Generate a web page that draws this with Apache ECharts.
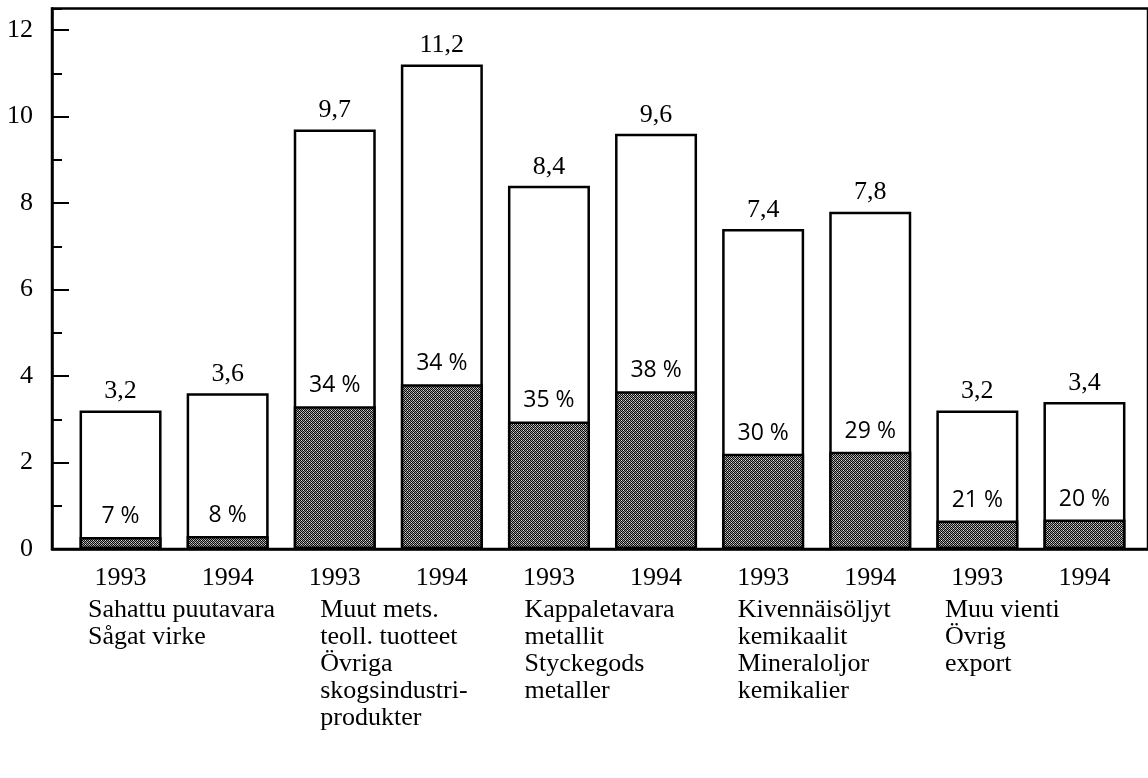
<!DOCTYPE html>
<html><head><meta charset="utf-8">
<script src="https://cdn.jsdelivr.net/npm/echarts@6/dist/echarts.min.js"></script>
<style>html,body{margin:0;padding:0;background:#fff}#c{width:1148px;height:778px}</style>
</head><body><div id="c"></div>
<script>
// ---- data ----
const years = ['1993','1994','1993','1994','1993','1994','1993','1994','1993','1994'];
const totals = [3.2, 3.6, 9.7, 11.2, 8.4, 9.6, 7.4, 7.8, 3.2, 3.4];
const shaded = [0.28, 0.30, 3.30, 3.81, 2.95, 3.65, 2.20, 2.25, 0.66, 0.68];
const shares = [7, 8, 34, 34, 35, 38, 30, 29, 21, 20];
const groups = [
  'Sahattu puutavara\nSågat virke',
  'Muut mets.\nteoll. tuotteet\nÖvriga\nskogsindustri-\nprodukter',
  'Kappaletavara\nmetallit\nStyckegods\nmetaller',
  'Kivennäisöljyt\nkemikaalit\nMineraloljor\nkemikalier',
  'Muu vienti\nÖvrig\nexport'
];
const groupShift = [0, 18, 8, 7, 0];

function makePattern(){
  const c = document.createElement('canvas'); c.width = 4; c.height = 4;
  const g = c.getContext('2d');
  g.fillStyle = '#9a9a9a'; g.fillRect(0,0,4,4);
  g.fillStyle = '#0a0a0a';
  for (let y=0;y<4;y++) for (let x=0;x<4;x++) if ((x+y)%2===0) g.fillRect(x,y,1,1);
  g.fillStyle = '#e0e0e0';
  g.fillRect(1,0,1,1); g.fillRect(3,2,1,1);
  return c;
}
const serif = 'Liberation Serif';
const chart = echarts.init(document.getElementById('c'), null, {renderer:'canvas'});
const gTop = 8.4, gBottom = 229;
chart.setOption({
  animation:false,
  backgroundColor:'#fff',
  grid:[
    {left:52, right:-6, top:gTop, bottom:gBottom, show:true, borderColor:'#000', borderWidth:2.5, backgroundColor:'transparent'},
    {left:67, right:10, top:gTop, bottom:gBottom},
    {left:88, right:203, top:gTop, bottom:gBottom}
  ],
  xAxis:[
    {gridIndex:0, type:'value', min:0, max:1, axisLine:{show:true, lineStyle:{color:'#000', width:2.5}}, axisTick:{show:false}, axisLabel:{show:false}, splitLine:{show:false}},
    {gridIndex:1, type:'category', data:years, axisLine:{show:false}, axisTick:{show:false},
     axisLabel:{interval:0, margin:16, color:'#000', fontFamily:serif, fontSize:26}},
    {gridIndex:2, type:'category', boundaryGap:false,
     data: groups.map((g,i)=>({value:g, textStyle:{align:'left', padding:[0,0,0,groupShift[i]]}})),
     axisLine:{show:false}, axisTick:{show:false},
     axisLabel:{interval:0, margin:48, align:'left', color:'#000', fontFamily:serif, fontSize:26, lineHeight:27}}
  ],
  yAxis:[
    {gridIndex:0, type:'value', position:'left', min:0, max:12.5, interval:2,
     axisLine:{show:true, lineStyle:{color:'#000', width:2.5}},
     axisTick:{show:true, inside:true, length:17, lineStyle:{color:'#000', width:2}},
     axisLabel:{margin:19, color:'#000', fontFamily:serif, fontSize:26, showMaxLabel:false},
     splitLine:{show:false}},
    {gridIndex:0, type:'value', position:'left', offset:0, min:0, max:12.5, interval:1,
     axisLine:{show:false}, axisTick:{show:true, inside:true, length:10, lineStyle:{color:'#000', width:2}},
     axisLabel:{show:false}, splitLine:{show:false}},
    {gridIndex:1, type:'value', min:0, max:12.5, show:false},
    {gridIndex:2, type:'value', min:0, max:12.5, show:false}
  ],
  series:[
    {type:'bar', xAxisIndex:1, yAxisIndex:2, data:totals, barWidth:82, barGap:'-100%',
     itemStyle:{color:'#fff', borderColor:'#000', borderWidth:2.5},
     label:{show:true, position:'top', distance:6, color:'#000', fontFamily:serif, fontSize:26,
            formatter:p=>String(p.value).replace('.', ',')}},
    {type:'bar', xAxisIndex:1, yAxisIndex:2, data:shaded, barWidth:82, barGap:'-100%',
     itemStyle:{color:{image:makePattern(), repeat:'repeat'}, borderColor:'#000', borderWidth:2.5},
     label:{show:true, position:'top', distance:9, color:'#000', fontFamily:'Open Sans', fontSize:23,
            formatter:p=>shares[p.dataIndex]+' %'}}
  ]
});
</script></body></html>
